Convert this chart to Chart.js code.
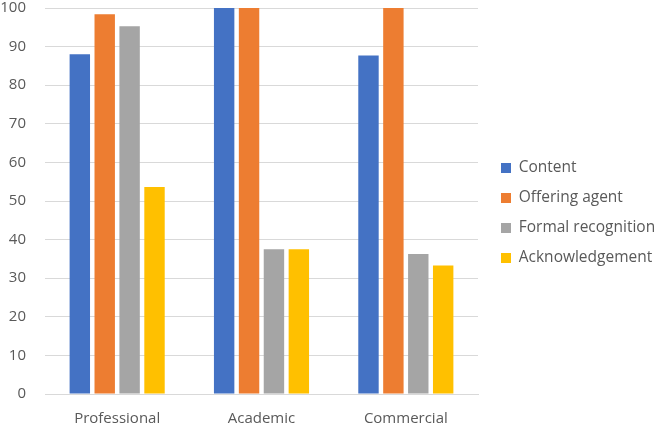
<!DOCTYPE html>
<html>
<head>
<meta charset="utf-8">
<script src="https://cdn.jsdelivr.net/npm/chart.js@4.4.1/dist/chart.umd.min.js"></script>
<style>
  html, body { margin: 0; padding: 0; background: #ffffff; }
  #wrap { width: 657px; height: 426px; position: relative; }
</style>
</head>
<body>
<div id="wrap"><canvas id="grafico"></canvas></div>
<script>
// Datos
const categorias = ['Professional', 'Academic', 'Commercial'];
const series = ['Content', 'Offering agent', 'Formal recognition', 'Acknowledgement'];
const valoresContent = [88, 100, 87.7];
const valoresOffering = [98.4, 100, 100];
const valoresFormal = [95.3, 37.5, 36.3];
const valoresAcknowledgement = [53.6, 37.5, 33.3];
const colores = ['#4472c4', '#ed7d31', '#a5a5a5', '#ffc000'];
const ticksY = [0, 100, 10]; // min, max, paso

const valores = [valoresContent, valoresOffering, valoresFormal, valoresAcknowledgement];
const fuente = 'Open Sans';
const grisTexto = '#595959';

// Chart.js limita el ancho de la leyenda lateral; aquí se fija a mano
const anchoLeyenda = {
    id: 'anchoLeyenda',
    afterInit(chart) {
        const leyenda = chart.legend;
        if (!leyenda) return;
        const fitOriginal = leyenda.fit;
        leyenda.fit = function () {
            fitOriginal.call(this);
            this.width = 170.5;
        };
    }
};

function crearGrafico() {
    const ctx = document.getElementById('grafico');
    new Chart(ctx, {
        type: 'bar',
        data: {
            labels: categorias,
            datasets: series.map((nombre, i) => ({
                label: nombre,
                data: valores[i],
                backgroundColor: colores[i],
                borderWidth: 0,
                categoryPercentage: 0.69,
                barPercentage: 0.82
            }))
        },
        plugins: [anchoLeyenda],
        options: {
            responsive: true,
            maintainAspectRatio: false,
            animation: false,
            layout: {
                padding: 0
            },
            plugins: {
                legend: {
                    position: 'right',
                    align: 'center',
                    labels: {
                        boxWidth: 10,
                        boxHeight: 10,
                        padding: 14.5,
                        color: grisTexto,
                        font: { family: fuente, size: 15.5 }
                    }
                },
                tooltip: { enabled: false }
            },
            scales: {
                x: {
                    grid: { display: false, drawTicks: false },
                    border: { display: true, color: '#d9d9d9', width: 1 },
                    ticks: {
                        color: grisTexto,
                        padding: 16,
                        font: { family: fuente, size: 15 }
                    },
                    // alto fijo del eje para que la base quede en su sitio
                    afterFit: (escala) => {
                        escala.height = 32;
                    }
                },
                y: {
                    min: ticksY[0],
                    max: ticksY[1],
                    ticks: {
                        stepSize: ticksY[2],
                        color: grisTexto,
                        padding: 19,
                        font: { family: fuente, size: 15 }
                    },
                    grid: { color: '#d9d9d9', drawTicks: false },
                    border: { display: false },
                    afterFit: (escala) => {
                        escala.width = 45;
                        escala.paddingTop = 8;
                        escala.paddingBottom = 0;
                    }
                },
                // eje vacío a la derecha: solo deja hueco antes de la leyenda
                hueco: {
                    type: 'linear',
                    position: 'right',
                    grid: { display: false },
                    border: { display: false },
                    ticks: { display: false },
                    afterFit: (escala) => {
                        escala.width = 8.5;
                        escala.paddingTop = 0;
                        escala.paddingBottom = 0;
                    }
                }
            }
        }
    });
}

// Esperar a la fuente para que la leyenda mida bien el texto
document.fonts.load('15px "Open Sans"').then(crearGrafico, crearGrafico);
</script>
</body>
</html>
